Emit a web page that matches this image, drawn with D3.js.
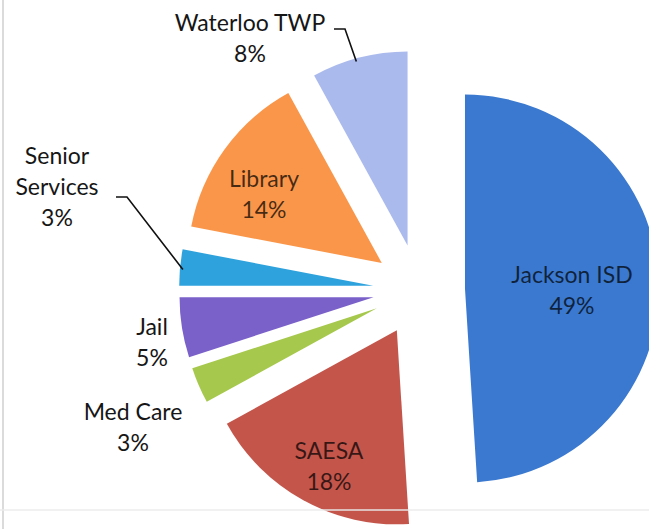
<!DOCTYPE html>
<html>
<head>
<meta charset="utf-8">
<script src="https://cdn.jsdelivr.net/npm/d3@7"></script>
<style>
  html, body { margin: 0; padding: 0; background: #fff; }
  svg { display: block; }
</style>
</head>
<body>
<svg id="chart" width="649" height="529"></svg>
<script>
// ---- data ----
const categories = ["Jackson ISD", "SAESA", "Med Care", "Jail", "Senior Services", "Library", "Waterloo TWP"];
const values = [49, 18, 3, 5, 3, 14, 8];
const colors = ["#3a79cf", "#c3554b", "#a6c84c", "#7a60c9", "#2ea2dc", "#f9964a", "#abbaec"];

// ---- layout (positions of labels, not data) ----
const W = 649, H = 529;
const cx = 419, cy = 290, R = 194, explode = 46;
const fontSize = 23, lineH = 31;
const labelLayout = {
  "Jackson ISD":     { lines: ["Jackson ISD", "49%"], x: 572, y: 283, inside: true },
  "SAESA":           { lines: ["SAESA", "18%"], x: 329, y: 459, inside: true },
  "Med Care":        { lines: ["Med Care", "3%"], x: 133, y: 420 },
  "Jail":            { lines: ["Jail", "5%"], x: 152, y: 335 },
  "Senior Services": { lines: ["Senior", "Services", "3%"], x: 57, y: 164,
                       leader: { from: [116, 197], elbow: [127, 197], angleFrac: 0.45 } },
  "Library":         { lines: ["Library", "14%"], x: 264, y: 187, inside: true },
  "Waterloo TWP":    { lines: ["Waterloo TWP", "8%"], x: 250, y: 31,
                       leader: { from: [334, 29], elbow: [345, 29], angleFrac: 0.46 } }
};

const svg = d3.select("#chart");

// faint scan borders
svg.append("line").attr("x1", 3).attr("x2", 3).attr("y1", 0).attr("y2", H)
  .attr("stroke", "#cfcfcf").attr("stroke-width", 1.5);

const data = categories.map((c, i) => ({ name: c, value: values[i], color: colors[i] }));

const pie = d3.pie().value(d => d.value).sort(null).startAngle(0).endAngle(2 * Math.PI);
const arcs = pie(data);
const arc = d3.arc().innerRadius(0).outerRadius(R);

const g = svg.append("g").attr("transform", `translate(${cx},${cy})`);

function offset(a) {
  const mid = (a.startAngle + a.endAngle) / 2;
  return [explode * Math.sin(mid), -explode * Math.cos(mid)];
}

g.selectAll("path.slice")
  .data(arcs)
  .join("path")
  .attr("class", "slice")
  .attr("d", arc)
  .attr("fill", d => d.data.color)
  .attr("transform", d => { const o = offset(d); return `translate(${o[0]},${o[1]})`; });

// bottom faint scan line
svg.append("line").attr("x1", 0).attr("x2", W).attr("y1", 510).attr("y2", 510)
  .attr("stroke", "#ececec").attr("stroke-width", 2).attr("opacity", 0.7);

// leader lines
arcs.forEach(a => {
  const L = labelLayout[a.data.name];
  if (!L.leader) return;
  const o = offset(a);
  const ang = a.startAngle + (a.endAngle - a.startAngle) * L.leader.angleFrac;
  const px = cx + o[0] + (R - 3) * Math.sin(ang);
  const py = cy + o[1] - (R - 3) * Math.cos(ang);
  svg.append("polyline")
    .attr("points", [L.leader.from, L.leader.elbow, [px, py]].map(p => p.join(",")).join(" "))
    .attr("fill", "none").attr("stroke", "#111").attr("stroke-width", 1.6);
});

// labels
arcs.forEach(a => {
  const L = labelLayout[a.data.name];
  const t = svg.append("text")
    .attr("text-anchor", "middle")
    .attr("font-family", "Lato, 'Open Sans', sans-serif")
    .attr("font-size", fontSize)
    .attr("fill", L.inside ? "#000" : "#161616")
    .attr("fill-opacity", L.inside ? 0.72 : 1);
  L.lines.forEach((ln, i) => {
    t.append("tspan").attr("x", L.x).attr("y", L.y + i * lineH).text(ln);
  });
});
</script>
</body>
</html>
